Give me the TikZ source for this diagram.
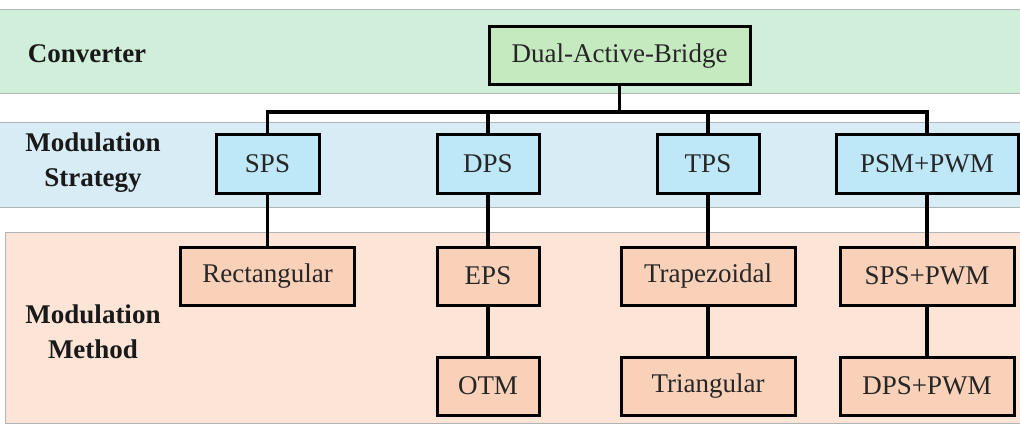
\documentclass[tikz,border=0pt]{standalone}
\usepackage{fontspec}
\setmainfont{Liberation Serif}
\definecolor{bandG}{RGB}{208,239,218}
\definecolor{bandB}{RGB}{215,236,245}
\definecolor{bandO}{RGB}{252,229,214}
\definecolor{boxG}{RGB}{198,234,192}
\definecolor{boxB}{RGB}{190,232,247}
\definecolor{boxO}{RGB}{249,208,184}
\definecolor{bandline}{RGB}{175,180,180}
\begin{document}
\begin{tikzpicture}[x=1pt,y=-1pt,
  font=\fontsize{27}{34}\selectfont,
  band/.style={draw=bandline,line width=1pt},
  box/.style={draw=black,line width=3pt,minimum height=58pt,inner sep=0pt,text=black!85},
  gbox/.style={box,fill=boxG},
  bbox/.style={box,fill=boxB},
  obox/.style={box,fill=boxO},
  lbl/.style={font=\fontsize{27}{35}\selectfont\bfseries,align=center,text=black!90},
  link/.style={draw=black,line width=3.5pt}]
\useasboundingbox (0,0) rectangle (1020,425);
% bands
\path[band,fill=bandG] (-2,10) rectangle (1022,94);
\path[band,fill=bandB] (-2,123) rectangle (1022,207);
\path[band,fill=bandO] (5,232) rectangle (1022,423);
% labels
\node[lbl] (lconv) at (87,54) {Converter};
\node[lbl] (lstrat) at (93,163) {Modulation\\Strategy};
\node[lbl] (lmeth) at (93,332) {Modulation\\Method};
% nodes
\node[gbox,minimum width=261pt] (dab) at (619.5,56) {Dual-Active-Bridge};
\node[bbox,minimum width=103pt] (sps) at (267.5,164) {SPS};
\node[bbox,minimum width=102pt] (dps) at (488,164) {DPS};
\node[bbox,minimum width=102pt] (tps) at (708,164) {TPS};
\node[bbox,minimum width=182pt] (psm) at (927,164) {PSM+PWM};
\node[obox,minimum width=174pt] (rect) at (267.5,276) {Rectangular};
\node[obox,minimum width=102pt] (eps) at (488,276) {EPS};
\node[obox,minimum width=102pt] (otm) at (488,386) {OTM};
\node[obox,minimum width=174pt] (trap) at (708,276) {Trapezoidal};
\node[obox,minimum width=174pt] (tri) at (708,386) {Triangular};
\node[obox,minimum width=174pt] (spw) at (927,276) {SPS+PWM};
\node[obox,minimum width=174pt] (dpw) at (927,386) {DPS+PWM};
% connectors
\coordinate (bus) at (0,112);
\draw[link] (dab.south) -- (dab.south |- bus);
\draw[link,line join=miter] (sps.north) -- (sps.north |- bus) -| (psm.north);
\draw[link] (dps.north) -- (dps.north |- bus);
\draw[link] (tps.north) -- (tps.north |- bus);
\draw[link] (sps.south) -- (rect.north);
\draw[link] (dps.south) -- (eps.north);
\draw[link] (eps.south) -- (otm.north);
\draw[link] (tps.south) -- (trap.north);
\draw[link] (trap.south) -- (tri.north);
\draw[link] (psm.south) -- (spw.north);
\draw[link] (spw.south) -- (dpw.north);
\end{tikzpicture}
\end{document}
